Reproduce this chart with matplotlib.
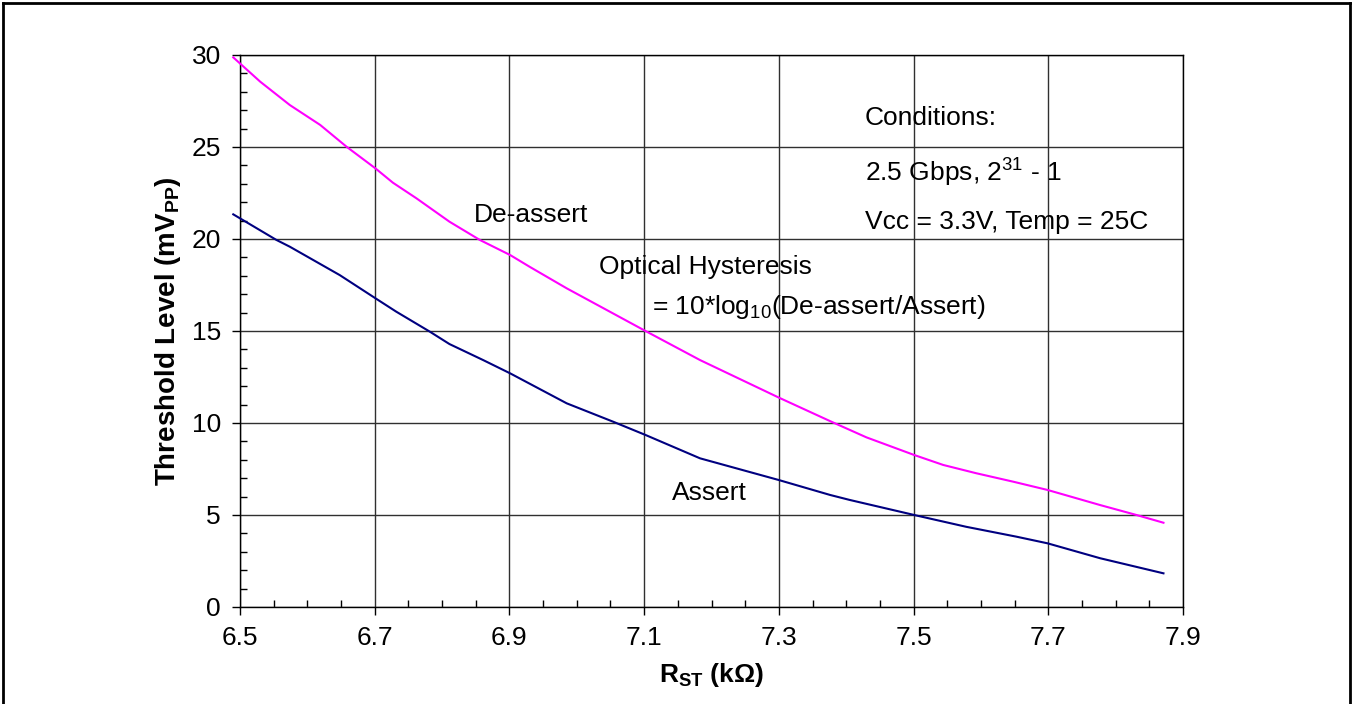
import matplotlib
matplotlib.use("Agg")
import matplotlib.pyplot as plt
from matplotlib.ticker import MultipleLocator
from matplotlib.lines import Line2D

plt.rcParams['font.family'] = ['Liberation Sans', 'DejaVu Sans']
plt.rcParams['mathtext.fontset'] = 'custom'
plt.rcParams['mathtext.rm'] = 'Liberation Sans'
plt.rcParams['mathtext.it'] = 'Liberation Sans:italic'
plt.rcParams['mathtext.bf'] = 'Liberation Sans:bold'

# Data
deassert_x = [6.490, 6.530, 6.574, 6.619, 6.658, 6.701, 6.727, 6.762, 6.811, 6.856,
              6.901, 6.930, 6.985, 7.102, 7.183, 7.300, 7.378, 7.430, 7.501, 7.544,
              7.593, 7.648, 7.699, 7.777, 7.831, 7.871]
deassert_y = [29.87, 28.55, 27.28, 26.20, 25.02, 23.84, 23.06, 22.21, 20.94, 19.95,
              19.13, 18.49, 17.32, 15.00, 13.42, 11.38, 10.07, 9.22, 8.26, 7.72,
              7.27, 6.81, 6.36, 5.54, 5.00, 4.58]

assert_x = [6.490, 6.554, 6.574, 6.648, 6.701, 6.732, 6.782, 6.811, 6.861, 6.901,
            6.985, 7.054, 7.102, 7.183, 7.300, 7.376, 7.405, 7.501, 7.578, 7.653,
            7.699, 7.777, 7.871]
assert_y = [21.34, 19.95, 19.58, 18.04, 16.78, 16.05, 14.96, 14.29, 13.42, 12.70,
            11.07, 10.07, 9.35, 8.08, 6.90, 6.09, 5.82, 5.00, 4.36, 3.82,
            3.46, 2.65, 1.83]

x_ticks = [6.5, 6.7, 6.9, 7.1, 7.3, 7.5, 7.7, 7.9]
x_tick_labels = ["6.5", "6.7", "6.9", "7.1", "7.3", "7.5", "7.7", "7.9"]
y_ticks = [0, 5, 10, 15, 20, 25, 30]
y_tick_labels = ["0", "5", "10", "15", "20", "25", "30"]

fig = plt.figure(figsize=(13.52, 7.04), dpi=100)
ax = fig.add_axes([240/1352, 1-607/704, (1183-240)/1352, (607-55)/704])

ax.plot(deassert_x, deassert_y, color='#FF00FF', lw=1.5, clip_on=False, zorder=3)
ax.plot(assert_x, assert_y, color='#000080', lw=1.5, clip_on=False, zorder=3)

ax.set_xlim(6.5, 7.9)
ax.set_ylim(0, 30)
ax.set_xticks(x_ticks)
ax.set_xticklabels(x_tick_labels)
ax.set_yticks(y_ticks)
ax.set_yticklabels(y_tick_labels)
ax.xaxis.set_minor_locator(MultipleLocator(0.05))
ax.yaxis.set_minor_locator(MultipleLocator(1))
ax.tick_params(axis='both', which='major', direction='out', length=5.8, width=1,
               labelsize=19, color='black')
ax.tick_params(axis='both', which='minor', direction='in', length=5, width=1, color='black')
ax.tick_params(axis='x', which='major', pad=8)
ax.tick_params(axis='y', which='major', pad=8)
ax.grid(True, which='major', color='#303030', lw=1)
for s in ax.spines.values():
    s.set_color('black')
    s.set_linewidth(1)

ax.set_ylabel(r"Threshold Level (mV$_{\mathbf{PP}}$)", fontsize=20, fontweight='bold', labelpad=6)
ax.set_xlabel(r"R$_{\mathbf{ST}}$ (kΩ)", fontsize=19, fontweight='bold', labelpad=8)

fs = 19
ax.text(7.428, 26.6, "Conditions:", fontsize=fs, va='center', ha='left')
ax.text(7.428, 23.6, r"2.5 Gbps, 2$^{31}$ - 1", fontsize=fs, va='center', ha='left')
ax.text(7.428, 20.9, "Vcc = 3.3V, Temp = 25C", fontsize=fs, va='center', ha='left')
ax.text(6.847, 21.3, "De-assert", fontsize=fs, va='center', ha='left')
ax.text(7.033, 18.5, "Optical Hysteresis", fontsize=fs, va='center', ha='left')
ax.text(7.112, 16.3, r"= 10*log$_{10}$(De-assert/Assert)", fontsize=fs, va='center', ha='left')
ax.text(7.141, 6.2, "Assert", fontsize=fs, va='center', ha='left')

# figure frame (left, top, right)
W, H = 1352, 704
for xs, ys in [([2.5/W, 2.5/W], [0, 1-2.5/H]), ([2.5/W, 1-2.5/W], [1-2.5/H, 1-2.5/H]),
               ([1-2.5/W, 1-2.5/W], [1-2.5/H, 0])]:
    fig.add_artist(Line2D(xs, ys, color='black', lw=2, transform=fig.transFigure))

fig.savefig("out.png", dpi=100, facecolor='white')
